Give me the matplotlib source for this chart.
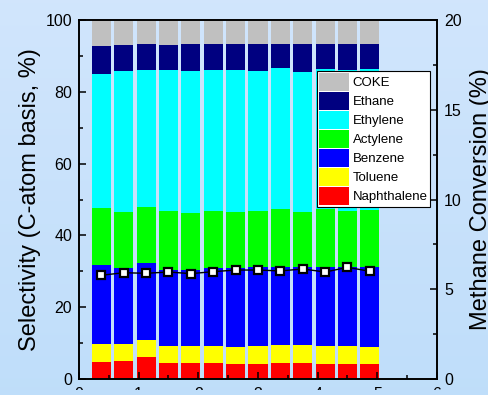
import matplotlib
matplotlib.use('Agg')
import matplotlib.pyplot as plt
import numpy as np
from matplotlib.ticker import MultipleLocator
from matplotlib.patches import Rectangle

plt.rcParams['font.family'] = ['Liberation Sans', 'DejaVu Sans']

# time on stream (h) for each sample
time_h = [0.375, 0.75, 1.125, 1.5, 1.875, 2.25, 2.625, 3.0, 3.375, 3.75, 4.125, 4.5, 4.875]

# cumulative tops of each stacked layer (selectivity, %)
naphthalene_top = [4.7, 4.9, 6.0, 4.4, 4.45, 4.4, 4.2, 4.1, 4.55, 4.4, 4.2, 4.2, 4.2]
toluene_top = [9.75, 9.75, 10.9, 9.2, 9.2, 9.2, 8.9, 9.2, 9.5, 9.4, 9.1, 9.1, 9.0]
benzene_top = [31.8, 30.9, 32.4, 30.5, 30.5, 31.0, 31.0, 31.3, 31.3, 31.3, 31.3, 31.3, 31.3]
actylene_top = [47.6, 46.6, 47.9, 46.7, 46.2, 46.8, 46.4, 46.9, 47.4, 46.5, 47.3, 46.7, 47.1]
ethylene_top = [85.0, 85.8, 86.1, 86.1, 85.8, 86.1, 86.1, 85.9, 86.5, 85.4, 86.4, 86.2, 86.3]
ethane_top = [92.8, 93.1, 93.4, 93.1, 93.3, 93.2, 93.2, 93.2, 93.3, 93.3, 93.2, 93.2, 93.3]
coke_top = [100] * 13

# methane conversion (%)
conversion = [5.78, 5.92, 5.89, 5.96, 5.87, 5.98, 6.07, 6.07, 6.02, 6.13, 5.96, 6.22, 6.0]

names = ['Naphthalene', 'Toluene', 'Benzene', 'Actylene', 'Ethylene', 'Ethane', 'COKE']
colors = ['#ff0000', '#ffff00', '#0000ff', '#00ff00', '#00ffff', '#000080', '#c0c0c0']
tops = [naphthalene_top, toluene_top, benzene_top, actylene_top, ethylene_top, ethane_top, coke_top]

fig = plt.figure(figsize=(4.89, 3.95), dpi=100)

# light blue gradient background
bg = fig.add_axes([0, 0, 1, 1], zorder=-10)
grad = np.linspace(0, 1, 256).reshape(-1, 1)
top_c = np.array([0.82, 0.90, 0.99])
bot_c = np.array([0.75, 0.87, 0.98])
img = top_c[None, None, :] * (1 - grad[:, :, None]) + bot_c[None, None, :] * grad[:, :, None]
bg.imshow(img, aspect='auto', extent=[0, 1, 0, 1])
bg.axis('off')

ax = fig.add_axes([79 / 489, 1 - 379 / 395, 358 / 489, 359 / 395])
ax.set_facecolor('none')

bottom = [0] * 13
for name, color, top in zip(names, colors, tops):
    h = [t - b for t, b in zip(top, bottom)]
    ax.bar(time_h, h, width=0.32, bottom=bottom, color=color, label=name, linewidth=0)
    bottom = top

ax.set_xlim(0, 6)
ax.set_ylim(0, 100)
ax.xaxis.set_major_locator(MultipleLocator(1))
ax.xaxis.set_minor_locator(MultipleLocator(0.5))
ax.yaxis.set_major_locator(MultipleLocator(20))
ax.yaxis.set_minor_locator(MultipleLocator(10))
ax.tick_params(which='both', direction='in', width=1.1, labelsize=11.5, pad=5)
ax.tick_params(which='major', length=5)
ax.tick_params(which='minor', length=3)
ax.tick_params(axis='x', pad=6)
ax.set_ylabel('Selectivity (C-atom basis, %)', fontsize=17, labelpad=3)
for s in ax.spines.values():
    s.set_linewidth(1.2)

handles, labels = ax.get_legend_handles_labels()
leg = ax.legend(handles[::-1], labels[::-1], loc='upper right', bbox_to_anchor=(0.98, 0.858),
                borderaxespad=0, fontsize=9.5, handlelength=2.27, handleheight=1.69,
                labelspacing=0.1, handletextpad=0.33, borderpad=0.15, fancybox=False,
                framealpha=1, edgecolor='black')
leg.get_frame().set_linewidth(0.8)

ax2 = ax.twinx()
ax2.plot(time_h, conversion, color='black', linewidth=1, marker='s', markersize=5.5,
         markerfacecolor='white', markeredgecolor='black', markeredgewidth=1.6)
ax2.set_ylim(0, 20)
ax2.yaxis.set_major_locator(MultipleLocator(5))
ax2.yaxis.set_minor_locator(MultipleLocator(2.5))
ax2.tick_params(which='both', direction='in', width=1.1, labelsize=11.5, pad=5)
ax2.tick_params(which='major', length=5)
ax2.tick_params(which='minor', length=3)
ax2.set_ylabel('Methane Conversion (%)', fontsize=17, labelpad=6)
for s in ax2.spines.values():
    s.set_linewidth(1.2)

# the original picture is cropped just under the x tick labels' tops
fig.patches.append(Rectangle((0, 0), 1, 5 / 395, transform=fig.transFigure,
                             facecolor=tuple(bot_c), edgecolor='none', zorder=10))

fig.savefig('out.png', dpi=100)
